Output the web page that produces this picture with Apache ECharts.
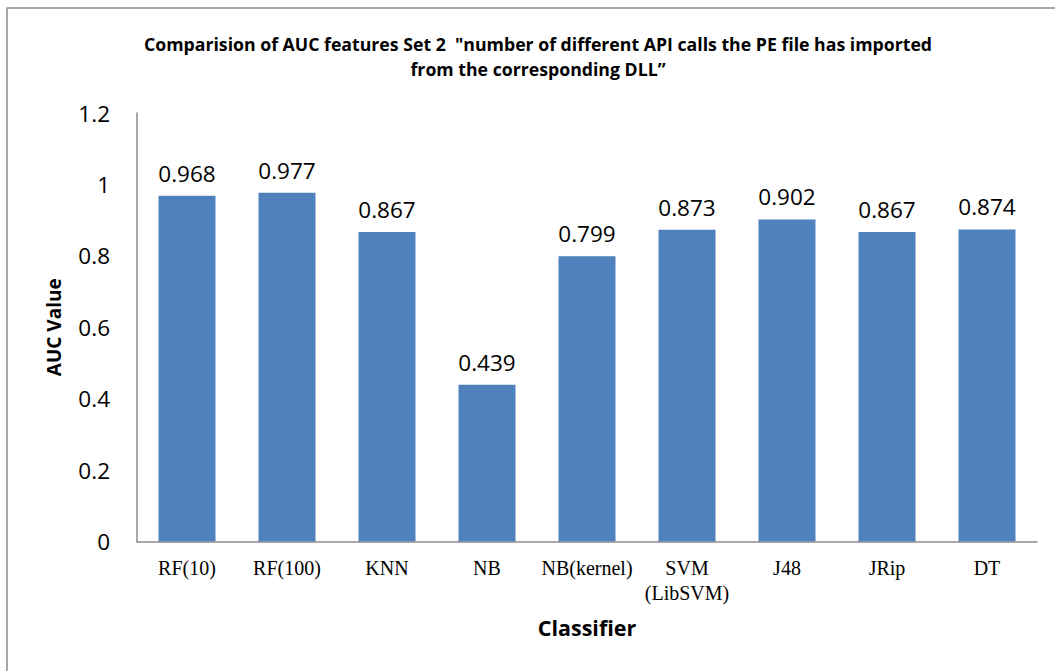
<!DOCTYPE html>
<html>
<head>
<meta charset="utf-8">
<script src="https://cdn.jsdelivr.net/npm/echarts@6/dist/echarts.min.js"></script>
<style>
  html, body { margin: 0; padding: 0; background: #fff; }
  #chart { width: 1055px; height: 671px; }
</style>
</head>
<body>
<div id="chart"></div>
<script>
  // classifier names and AUC values
  const classifiers = ['RF(10)', 'RF(100)', 'KNN', 'NB', 'NB(kernel)', 'SVM\n(LibSVM)', 'J48', 'JRip', 'DT'];
  const aucValues = [0.968, 0.977, 0.867, 0.439, 0.799, 0.873, 0.902, 0.867, 0.874];
  const titleLines = [
    'Comparision of AUC features Set 2  "number of different API calls the PE file has imported',
    'from the corresponding DLL\u201d'
  ];

  const chart = echarts.init(document.getElementById('chart'), null, { renderer: 'svg' });
  const sans = "'Open Sans', 'Noto Sans', sans-serif";

  chart.setOption({
    animation: false,
    graphic: [
      {
        type: 'rect',
        shape: { x: 7, y: 8, width: 1100, height: 700 },
        style: { fill: 'none', stroke: '#8c8c8c', lineWidth: 1.5 },
        silent: true
      },
      {
        type: 'text', x: 538, y: 44,
        style: { text: titleLines[0], fontFamily: sans, fontWeight: 'bold', fontSize: 17.7, fill: '#000', textAlign: 'center', textVerticalAlign: 'middle' }
      },
      {
        type: 'text', x: 538, y: 69,
        style: { text: titleLines[1], fontFamily: sans, fontWeight: 'bold', fontSize: 17.7, fill: '#000', textAlign: 'center', textVerticalAlign: 'middle' }
      }
    ],
    grid: { left: 137, right: 18, top: 113, bottom: 129.5 },
    xAxis: {
      type: 'category',
      data: classifiers,
      name: 'Classifier',
      nameLocation: 'middle',
      nameGap: 75,
      nameTextStyle: { fontFamily: sans, fontWeight: 'bold', fontSize: 21.5, color: '#000' },
      axisLine: { lineStyle: { color: '#8c8c8c', width: 1.5 } },
      axisTick: { show: false },
      axisLabel: { fontFamily: "'Liberation Serif', serif", fontSize: 20, color: '#000', margin: 14, lineHeight: 25, interval: 0 }
    },
    yAxis: {
      type: 'value',
      min: 0, max: 1.2, interval: 0.2,
      name: 'AUC Value',
      nameLocation: 'middle',
      nameGap: 74,
      nameTextStyle: { fontFamily: sans, fontWeight: 'bold', fontSize: 19, color: '#000' },
      axisLine: { show: true, lineStyle: { color: '#8c8c8c', width: 1.5 } },
      axisTick: { show: false },
      splitLine: { show: false },
      axisLabel: { fontFamily: sans, fontSize: 22.5, color: '#000', margin: 27 }
    },
    series: [{
      type: 'bar',
      data: aucValues,
      barWidth: '57%',
      itemStyle: { color: '#4f81bd' },
      label: {
        show: true, position: 'top', distance: 11,
        fontFamily: sans, fontSize: 22.5, color: '#000',
        formatter: p => p.value.toFixed(3)
      }
    }]
  });
</script>
</body>
</html>
